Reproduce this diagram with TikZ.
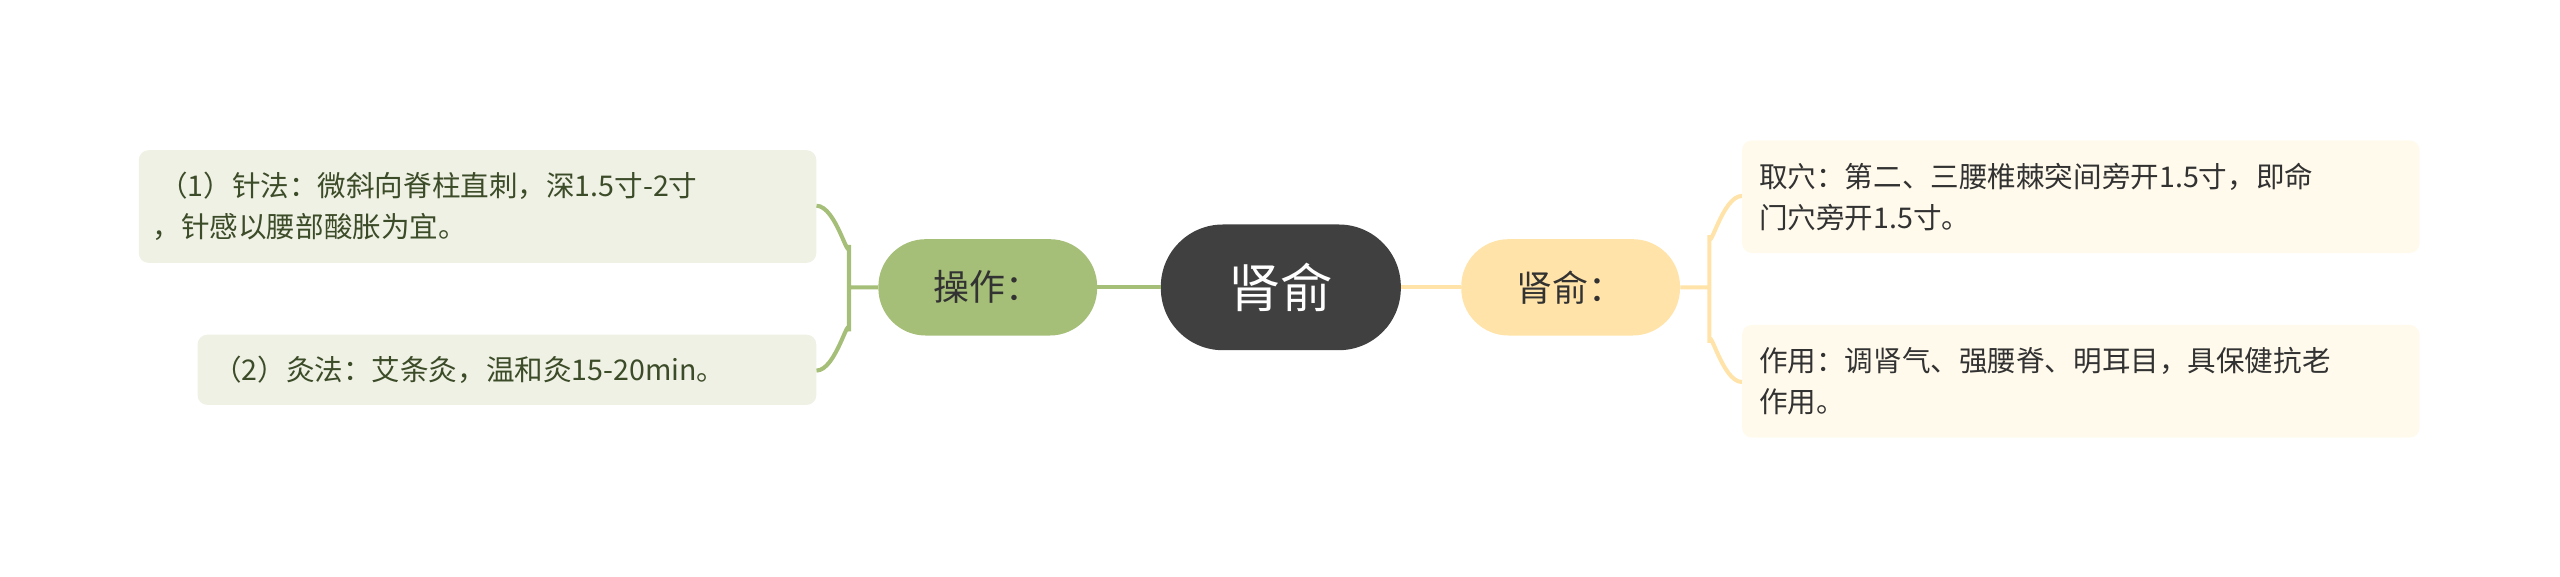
\documentclass[tikz,border=0pt]{standalone}
\usepackage{fontspec}
\setmainfont{Noto Sans CJK SC}
\definecolor{cdark}{RGB}{64,64,64}
\definecolor{cgreen}{RGB}{165,190,120}
\definecolor{cyel}{RGB}{255,227,168}
\definecolor{lgreen}{RGB}{238,241,228}
\definecolor{lyel}{RGB}{255,250,236}
\definecolor{tgreen}{RGB}{60,75,40}
\definecolor{tgray}{RGB}{50,50,50}
\begin{document}
\begin{tikzpicture}[x=1pt,y=-1pt,
 ltxt/.style={font=\fontsize{17.5}{25}\selectfont,align=left,anchor=west,text=#1}]
\useasboundingbox (0,0) rectangle (1568,353);
% main nodes
\node (c) [fill=cdark,rounded corners=38pt,minimum width=147pt,minimum height=77pt,text=white,font=\fontsize{32}{32}\selectfont] at (784.5,176) {肾俞};
\node (l) [fill=cgreen,rounded corners=29pt,minimum width=134pt,minimum height=59pt,text=tgray,font=\fontsize{22}{22}\selectfont] at (605,176) {操作：};
\node (r) [fill=cyel,rounded corners=29pt,minimum width=134pt,minimum height=59pt,text=tgray,font=\fontsize{22}{22}\selectfont] at (962,176) {肾俞：};
% connectors
\draw[line width=2.5pt,cgreen] (l.east) -- (c.west);
\draw[line width=2.5pt,cyel] (c.east) -- (r.west);
\coordinate (lb) at (520,176);
\coordinate (rb) at (1047,176);
\draw[line width=2.5pt,cgreen] (l.west) -- (lb)
  (lb) -- (520,150) to[out=-90,in=0] (500,126)
  (lb) -- (520,203) to[out=90,in=0] (500,227);
\draw[line width=2.5pt,cyel] (r.east) -- (rb)
  (rb) -- (1047,144) to[out=-90,in=180] (1067,120)
  (rb) -- (1047,210) to[out=90,in=180] (1067,234);
% leaves
\fill[rounded corners=6pt,lgreen] (85,92) rectangle (500,161);
\node (l1) [ltxt=tgreen] at (90,126.5) {\ （1）针法：微斜向脊柱直刺，深1.5寸-2寸\\，针感以腰部酸胀为宜。};
\fill[rounded corners=6pt,lgreen] (121,205) rectangle (500,248);
\node (l2) [ltxt=tgreen] at (127,226.5) {（2）灸法：艾条灸，温和灸15-20min。};
\fill[rounded corners=6pt,lyel] (1067,86) rectangle (1482,155);
\node (r1) [ltxt=tgray] at (1074,120.5) {取穴：第二、三腰椎棘突间旁开1.5寸，即命\\门穴旁开1.5寸。};
\fill[rounded corners=6pt,lyel] (1067,199) rectangle (1482,268);
\node (r2) [ltxt=tgray] at (1074,233.5) {作用：调肾气、强腰脊、明耳目，具保健抗老\\作用。};
\end{tikzpicture}
\end{document}
